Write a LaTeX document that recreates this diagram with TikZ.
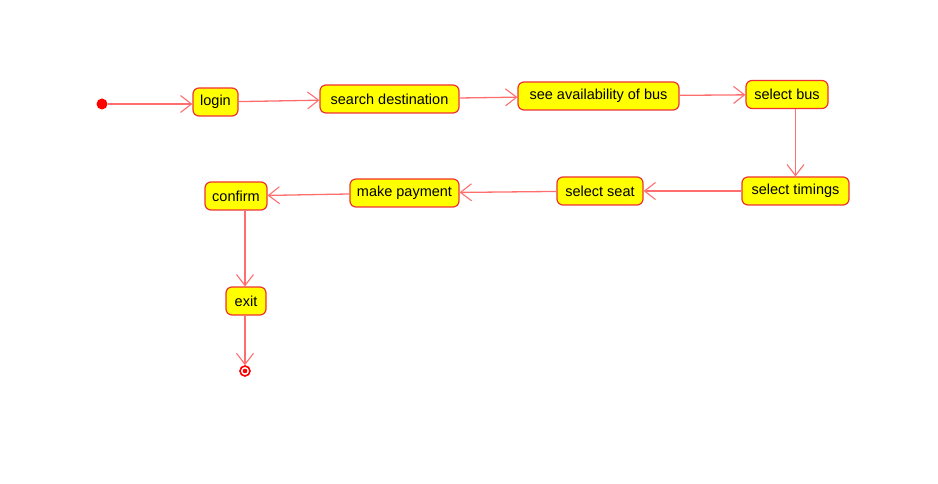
\documentclass[tikz,border=0pt]{standalone}
\usepackage{fontspec}
\setmainfont{Liberation Sans}
\usetikzlibrary{arrows.meta}
\definecolor{stateline}{RGB}{240,50,50}
\definecolor{flowline}{RGB}{255,110,110}
\definecolor{statefill}{RGB}{255,255,0}
\tikzset{
  state/.style={draw=stateline, fill=statefill, line width=1.2pt, rounded corners=6pt,
    minimum height=28pt, inner xsep=4pt, inner ysep=0pt,
    font=\fontsize{14.5pt}{16pt}\selectfont},
  flow/.style={draw=flowline, line width=1.3pt,
    -{Straight Barb[length=11pt,width=17pt,line width=1.1pt]}},
  startdot/.style={circle, fill=red, draw=none, minimum size=11pt, inner sep=0pt},
  enddot/.style={circle, draw=red, line width=1.6pt, fill=white, minimum size=10pt, inner sep=0pt,
    path picture={\fill[red] (path picture bounding box.center) circle (2.3pt);}}
}
\begin{document}
\begin{tikzpicture}[x=1pt, y=-1pt]
\useasboundingbox (0,0) rectangle (938,484);
% start and end markers
\node[startdot] (start) at (102,104) {};
\node[enddot] (stop) at (245,371) {};
% activities
\node[state, minimum width=45pt]  (login)   at (215.5,102) {login};
\node[state, minimum width=139pt] (search)  at (389.5,99)  {search destination};
\node[state, minimum width=161pt] (avail)   at (598.5,96)  {see availability of bus};
\node[state, minimum width=82pt]  (bus)     at (787,94.5)  {select bus};
\node[state, minimum width=107pt] (timings) at (795.5,191) {select timings};
\node[state, minimum width=86pt]  (seat)    at (600,191)   {select seat};
\node[state, minimum width=109pt] (payment) at (404.5,193) {make payment};
\node[state, minimum width=62pt]  (confirm) at (236,196)   {confirm};
\node[state, minimum width=40pt]  (exit)    at (246,301)   {exit};
% transitions
\draw[flow] (start) -- (login.west |- start);
\draw[flow] (login) -- (search);
\draw[flow] (search) -- (avail);
\draw[flow] (avail) -- (bus);
\draw[flow] (bus.south -| timings.north) -- (timings.north);
\draw[flow] (timings) -- (seat);
\draw[flow] (seat) -- (payment);
\draw[flow] (payment) -- (confirm);
\draw[flow] (confirm.south -| stop) -- (exit.north -| stop);
\draw[flow] (exit.south -| stop) -- (stop);
\end{tikzpicture}
\end{document}
